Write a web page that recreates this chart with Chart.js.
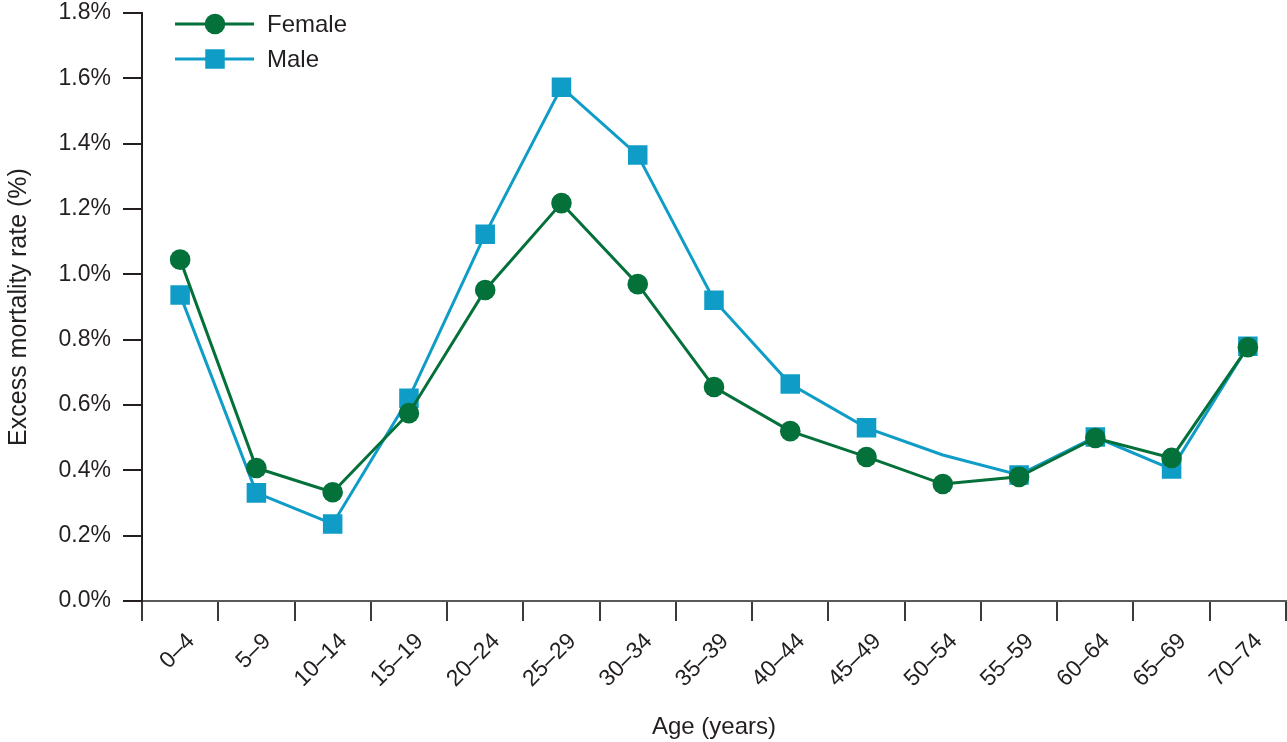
<!DOCTYPE html>
<html>
<head>
<meta charset="utf-8">
<script src="https://cdn.jsdelivr.net/npm/chart.js@4/dist/chart.umd.min.js"></script>
<style>
  html, body { margin: 0; padding: 0; background: #fff; }
  #wrap { width: 1287px; height: 742px; position: relative; }
</style>
</head>
<body>
<div id="wrap"><canvas id="chart"></canvas></div>
<script>
const ageGroups = ["0\u20134", "5\u20139", "10\u201314", "15\u201319", "20\u201324", "25\u201329", "30\u201334",
  "35\u201339", "40\u201344", "45\u201349", "50\u201354", "55\u201359", "60\u201364", "65\u201369", "70\u201374"];
const female = [1.045, 0.407, 0.333, 0.575, 0.952, 1.218, 0.970, 0.655, 0.520, 0.441, 0.358, 0.380, 0.499, 0.438, 0.777];
const male = [0.937, 0.331, 0.236, 0.621, 1.123, 1.573, 1.365, 0.921, 0.664, 0.530, 0.447, 0.386, 0.502, 0.404, 0.780];
const maleMarkers = [1, 1, 1, 1, 1, 1, 1, 1, 1, 1, 0, 1, 1, 1, 1]; // no marker drawn at 50-54
const yTicks = [0, 0.2, 0.4, 0.6, 0.8, 1.0, 1.2, 1.4, 1.6, 1.8];

const GREEN = "#04703a";
const BLUE = "#0f9dc7";
const INK = "#231f20";
const FONT = "'Liberation Sans', Arial, Helvetica, sans-serif";

// legend drawn as line + marker, like the original
const lineLegend = {
  id: "lineLegend",
  afterDraw(chart) {
    const ctx = chart.ctx;
    const items = [
      { text: "Female", color: GREEN, shape: "circle", y: 24 },
      { text: "Male", color: BLUE, shape: "rect", y: 59 },
    ];
    ctx.save();
    items.forEach(it => {
      ctx.strokeStyle = it.color;
      ctx.lineWidth = 3;
      ctx.beginPath();
      ctx.moveTo(175, it.y);
      ctx.lineTo(254, it.y);
      ctx.stroke();
      ctx.fillStyle = it.color;
      if (it.shape === "circle") {
        ctx.beginPath();
        ctx.arc(215, it.y, 10.3, 0, Math.PI * 2);
        ctx.fill();
      } else {
        ctx.fillRect(215 - 9.75, it.y - 9.75, 19.5, 19.5);
      }
      ctx.fillStyle = INK;
      ctx.font = "24px " + FONT;
      ctx.textBaseline = "middle";
      ctx.textAlign = "left";
      ctx.fillText(it.text, 267, it.y + 1);
    });
    ctx.restore();
  }
};

new Chart(document.getElementById("chart"), {
  type: "line",
  data: {
    labels: ageGroups,
    datasets: [
      {
        label: "Female",
        data: female,
        borderColor: GREEN,
        backgroundColor: GREEN,
        borderWidth: 3,
        pointStyle: "circle",
        pointRadius: 10.3,
        pointBorderWidth: 0,
        tension: 0,
      },
      {
        label: "Male",
        data: male,
        borderColor: BLUE,
        backgroundColor: BLUE,
        borderWidth: 3,
        pointStyle: "rect",
        pointRadius: maleMarkers.map(m => m ? 13.8 : 0),
        pointBorderWidth: 0,
        tension: 0,
      }
    ]
  },
  options: {
    responsive: true,
    maintainAspectRatio: false,
    animation: false,
    layout: { autoPadding: false, padding: { top: 0, right: 1, left: 0, bottom: 0 } },
    plugins: { legend: { display: false }, tooltip: { enabled: false } },
    scales: {
      x: {
        type: "category",
        offset: true,
        grid: { offset: true, drawOnChartArea: false, drawTicks: true, tickLength: 20, color: "#3a3a3c", lineWidth: 2 },
        border: { display: true, color: "#58595b", width: 2 },
        ticks: {
          color: INK, font: { family: FONT, size: 23 },
          minRotation: 45, maxRotation: 45, autoSkip: false, padding: 7, labelOffset: 11
        },
        title: { display: true, text: "Age (years)", color: INK, font: { family: FONT, size: 24 }, padding: { top: 0, bottom: 0 } },
        afterFit(scale) { scale.height = 141; }
      },
      y: {
        min: 0,
        max: 1.8,
        afterBuildTicks(scale) { scale.ticks = yTicks.map(v => ({ value: v })); },
        grid: { drawOnChartArea: false, drawTicks: true, tickLength: 19, color: INK, lineWidth: 2 },
        border: { display: true, color: INK, width: 2 },
        ticks: {
          color: INK, font: { family: FONT, size: 23 }, padding: 12,
          callback: v => v.toFixed(1) + "%"
        },
        title: { display: true, text: "Excess mortality rate (%)", color: INK, font: { family: FONT, size: 25 }, padding: { top: 4, bottom: 0 } },
        afterFit(scale) {
          scale.width = 142;
          scale.paddingTop = 13;
          scale.paddingBottom = 13;
        }
      }
    }
  },
  plugins: [lineLegend]
});
</script>
</body>
</html>
